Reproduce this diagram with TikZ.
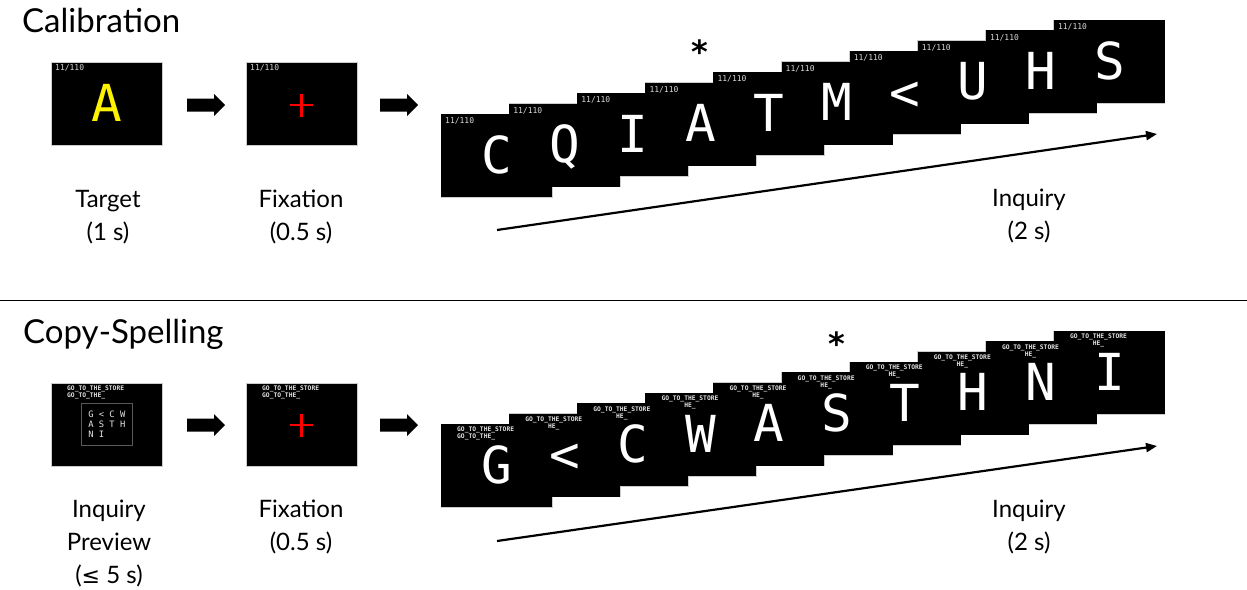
\documentclass[tikz,border=0pt]{standalone}
\usepackage{fontspec}
\setmainfont{Lato}
\newfontfamily\monof{DejaVu Sans Mono}
\newfontfamily\symf{DejaVu Sans}
\usetikzlibrary{arrows.meta}
\tikzset{
  screen/.style={draw=gray!40, line width=1pt, fill=black, minimum width=111pt, minimum height=83pt, inner sep=0pt, outer sep=0pt, anchor=north west},
  cover/.style={fill=black, minimum width=111pt, minimum height=83pt, inner sep=0pt, outer sep=0pt, anchor=north west},
  tinylab/.style={text=white!85!black, font=\monof\fontsize{8}{8}\selectfont, inner sep=0pt, anchor=west},
  goline/.style={text=white!90!black, font=\monof\bfseries\fontsize{6.3}{7}\selectfont, inner sep=0pt, anchor=north west},
  bigletter/.style={text=white, font=\monof\fontsize{51}{51}\selectfont, inner sep=0pt, anchor=base},
  caption/.style={font=\fontsize{24}{24}\selectfont, inner sep=0pt, anchor=base},
  heading/.style={font=\fontsize{33}{33}\selectfont, inner sep=0pt, anchor=base west},
  star/.style={font=\symf\bfseries\fontsize{32}{32}\selectfont, inner sep=0pt},
  timeline/.style={line width=2.2pt, -{Triangle[length=11pt,width=9pt]}},
  crossline/.style={red, line width=2.5pt},
  blockarrow/.pic={\fill (0,-6.5) -- (27,-6.5) -- (27,-11) -- (38,0) -- (27,11) -- (27,6.5) -- (0,6.5) -- cycle;}
}
\begin{document}
\begin{tikzpicture}[x=1pt,y=-1pt]
\useasboundingbox (0,0) rectangle (1247,589);

% ---------- Calibration ----------
\node[heading] (t1) at (22,32) {Calibration};

\node[screen] (tg) at (51,62) {};
\node[tinylab] (tgl) at ([xshift=4pt,yshift=-6pt]tg.north west) {11/110};
\node[bigletter, text=yellow] (tgA) at ([yshift=-59pt]tg.north) {A};
\node[caption] (tgc1) at (108,207) {Target};
\node[caption] (tgc2) at (108,240) {(1 s)};

\pic at (187,105) {blockarrow};

\node[screen] (fx) at (246,62) {};
\node[tinylab] (fxl) at ([xshift=4pt,yshift=-6pt]fx.north west) {11/110};
\coordinate (fxc) at ([yshift=-43pt]fx.north);
\draw[crossline] ([xshift=-11.5pt]fxc) -- ([xshift=11.5pt]fxc);
\draw[crossline] ([yshift=-11.5pt]fxc) -- ([yshift=11.5pt]fxc);
\node[caption] (fxc1) at (301,207) {Fixation};
\node[caption] (fxc2) at (301,240) {(0.5 s)};

\pic at (380,105) {blockarrow};

\foreach \i in {0,...,9} {
  \pgfmathsetmacro\fx{441+68.1*\i}
  \pgfmathsetmacro\fy{114-10.44*\i}
  \node[screen] (c\i) at (\fx,\fy) {};
}
\foreach \i in {0,...,9} {
  \node[cover] (cc\i) at (c\i.north west) {};
}
\foreach \lt [count=\i from 0] in {C,Q,I,A,T,M,<,U,H,S} {
  \node[tinylab] (cl\i) at ([xshift=4pt,yshift=-7pt]c\i.north west) {11/110};
  \node[bigletter] (cb\i) at ([yshift=-59pt]c\i.north) {\lt};
}
\node[star] (s1) at (700,52) {*};

\coordinate (a1s) at (497,230);
\coordinate (a1e) at (1157,134);
\draw[timeline] (a1s) -- (a1e);
\node[caption] (iq1) at (1029,206) {Inquiry};
\node[caption] (iq2) at (1029,239) {(2 s)};

% separator
\coordinate (sepL) at (0,300.5);
\coordinate (sepR) at (1247,300.5);
\draw[line width=1.5pt] (sepL) -- (sepR);

% ---------- Copy-Spelling ----------
\node[heading] (t2) at (23,343) {Copy-Spelling};

\node[screen] (pv) at (51,383) {};
\node[goline, align=left] (pvt) at ([xshift=16pt,yshift=-3pt]pv.north west) {GO\_TO\_THE\_STORE\\GO\_TO\_THE\_};
\node[draw=gray!70!black, line width=0.7pt, minimum width=51pt, minimum height=42pt, inner sep=0pt, anchor=north west] (pvg) at (81,403) {};
\node[text=white!90!black, font=\monof\fontsize{8.8}{10}\selectfont, align=left, inner sep=0pt] (pvgt) at (pvg.center) {G < C W\\A S T H\\N I\phantom{ T H}};
\node[caption] (pvc1) at (109,517) {Inquiry};
\node[caption] (pvc2) at (109,550) {Preview};
\node[caption] (pvc3) at (109,583) {({\symf\fontsize{22}{22}\selectfont ≤}~5 s)};

\pic at (187,425) {blockarrow};

\node[screen] (fx2) at (246,383) {};
\node[goline, align=left] (fx2t) at ([xshift=16pt,yshift=-3pt]fx2.north west) {GO\_TO\_THE\_STORE\\GO\_TO\_THE\_};
\coordinate (fx2c) at ([yshift=-42pt]fx2.north);
\draw[crossline] ([xshift=-11.5pt]fx2c) -- ([xshift=11.5pt]fx2c);
\draw[crossline] ([yshift=-11.5pt]fx2c) -- ([yshift=11.5pt]fx2c);
\node[caption] (fx2c1) at (301,517) {Fixation};
\node[caption] (fx2c2) at (301,550) {(0.5 s)};

\pic at (380,425) {blockarrow};

\foreach \i in {0,...,9} {
  \pgfmathsetmacro\fx{441+68.1*\i}
  \pgfmathsetmacro\fy{424-10.33*\i}
  \node[screen] (d\i) at (\fx,\fy) {};
}
\foreach \i in {0,...,9} {
  \node[cover] (dc\i) at (d\i.north west) {};
}
\foreach \lt [count=\i from 0] in {G,<,C,W,A,S,T,H,N,I} {
  \ifnum\i=0
    \node[goline, align=left] (dl\i) at ([xshift=16pt,yshift=-3pt]d\i.north west) {GO\_TO\_THE\_STORE\\GO\_TO\_THE\_};
  \else
    \node[goline, align=center] (dl\i) at ([xshift=16pt,yshift=-3pt]d\i.north west) {GO\_TO\_THE\_STORE\\HE\_};
  \fi
  \node[bigletter] (db\i) at ([yshift=-59pt]d\i.north) {\lt};
}
\node[star] (s2) at (837,344) {*};

\coordinate (a2s) at (497,541);
\coordinate (a2e) at (1157,446);
\draw[timeline] (a2s) -- (a2e);
\node[caption] (iq3) at (1029,517) {Inquiry};
\node[caption] (iq4) at (1029,550) {(2 s)};
\end{tikzpicture}
\end{document}
